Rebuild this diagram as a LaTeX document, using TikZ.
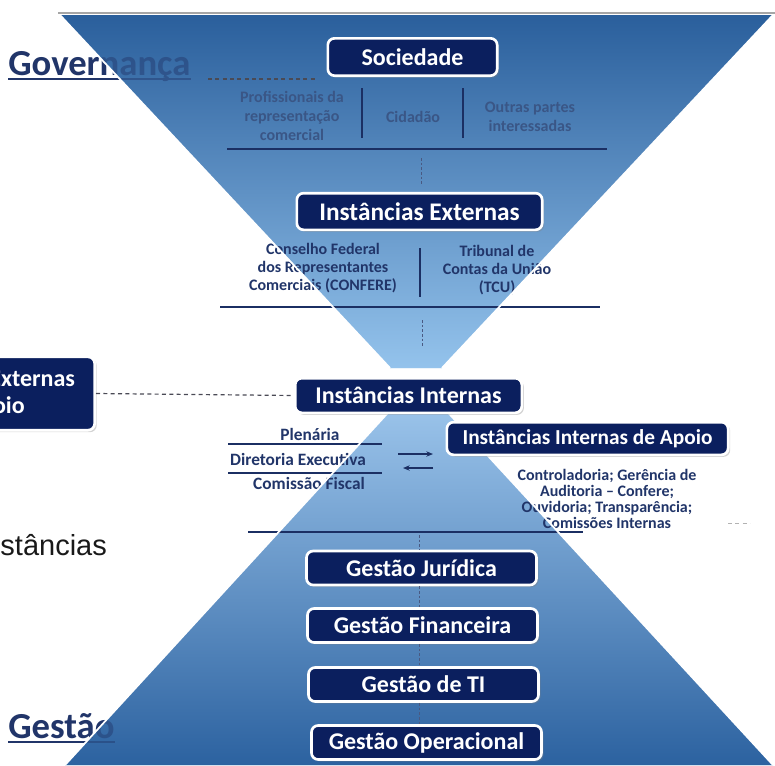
\documentclass[tikz,border=0pt]{standalone}
\usepackage{fontspec}
\setmainfont{Carlito}
\newfontfamily\arialfont{Liberation Sans}
\usepackage{tikz}
\usetikzlibrary{positioning,shadows,arrows.meta}
\definecolor{navybox}{HTML}{0B1F5E}
\definecolor{navytext}{HTML}{213569}
\definecolor{softtext}{HTML}{3A5686}
\definecolor{rulec}{HTML}{1B2F63}
\definecolor{topblue}{HTML}{2A5F9C}
\definecolor{paleblue}{HTML}{94C3EC}
\definecolor{apexblue}{HTML}{A3CBF0}
\definecolor{baseblue}{HTML}{2C62A0}
\definecolor{dashc}{HTML}{4A4A55}

\begin{document}
\begin{tikzpicture}[x=0.75pt, y=-0.75pt,
        box/.style={
            rectangle,
            rounded corners=5pt,
            fill=navybox,
            draw=white,
            line width=2pt,
            text=white,
            inner sep=2pt,
            minimum height=26pt,
            font=\bfseries\fontsize{18}{20}\selectfont,
            drop shadow={opacity=0.35, shadow xshift=1.5pt, shadow yshift=-1.5pt}
        },
        item/.style={
            text=navytext,
            font=\bfseries\fontsize{12}{13.8}\selectfont,
            align=center,
            inner sep=0pt
        },
        soft/.style={
            item,
            text=softtext,
            font=\bfseries\fontsize{12}{14.5}\selectfont
        },
        title/.style={
            text=navytext,
            font=\bfseries\fontsize{27.5}{30}\selectfont,
            inner sep=0pt,
            anchor=base west
        },
        rule/.style={draw=rulec, line width=1.5pt},
        dotline/.style={draw=rulec!80, line width=0.6pt, dash pattern=on 2pt off 1.5pt},
        link/.style={draw=dashc, line width=0.9pt, dash pattern=on 3pt off 2.5pt},
        arrow/.style={-{Stealth[length=5pt, width=4pt]}, draw=rulec, line width=0.9pt},
        edge/.style={draw=white, line width=1.3pt},
        upshade/.style={top color=topblue, bottom color=paleblue},
        lowshade/.style={top color=apexblue, bottom color=baseblue}
    ]
        \useasboundingbox (0,0) rectangle (775,765);
        \clip (0,0) rectangle (775,765);

        % Funnel and pyramid
        \draw[black!35, line width=1.5pt] (58,13) -- (775,13);
        \shade[upshade] (60,15) -- (773,15) -- (442,368) -- (390,368) -- cycle;
        \shade[lowshade] (418,380) -- (773,765) -- (65,765) -- cycle;

        % Side titles
        \node[title] (gov) at (8,75) {Governança};
        \draw[navytext, line width=1pt] ([yshift=-3pt]gov.base west) -- ([yshift=-3pt]gov.base east);
        \node[title] (gest) at (8,738) {Gestão};
        \draw[navytext, line width=1pt] ([yshift=-3pt]gest.base west) -- ([yshift=-3pt]gest.base east);
        \node[anchor=base west, inner sep=0pt, text=black!90,
            font=\arialfont\fontsize{21.75}{24}\selectfont] (inst) at (-24,555) {Instâncias};

        % shapes again, half see-through over the titles
        \shade[upshade, opacity=0.55] (60,15) -- (773,15) -- (442,368) -- (390,368) -- cycle;
        \shade[lowshade, opacity=0.55] (418,380) -- (773,765) -- (65,765) -- cycle;

        % Sociedade row
        \node[soft] (prof) at (292,116) {Profissionais da\\representação\\comercial};
        \node[soft] (cidad) at (413,117) {Cidadão};
        \node[soft] (outras) at (530,117) {Outras partes\\interessadas};
        \draw[rule, line width=1.2pt] (362,88) -- (362,138);
        \draw[rule, line width=1.2pt] (463,88) -- (463,138);
        \draw[rule] (227,149) -- (607,149);

        % Externas row
        \node[item, font=\bfseries\fontsize{12}{13.8}\selectfont] (conselho) at (323,268) {Conselho Federal\\dos Representantes\\Comerciais (CONFERE)};
        \node[item] (tcu) at (497,270) {Tribunal de\\Contas da União\\(TCU)};
        \draw[rule, line width=1.2pt] (420,248) -- (420,297);
        \draw[rule] (220,307) -- (600,307);

        % Internas rows
        \node[item, font=\bfseries\fontsize{13}{15}\selectfont] (plen) at (310,434) {Plenária};
        \node[item, font=\bfseries\fontsize{13}{15}\selectfont] (dir) at (298,459) {Diretoria Executiva};
        \node[item, font=\bfseries\fontsize{13}{15}\selectfont] (comfis) at (309,483) {Comissão Fiscal};
        \draw[rule, line width=1.2pt] (228,444) -- (382,444);
        \draw[rule, line width=1.2pt] (228,473) -- (382,473);
        \node[item, font=\bfseries\fontsize{12}{12.1}\selectfont] (apoiotxt) at (607,499) {Controladoria; Gerência de\\Auditoria – Confere;\\Ouvidoria; Transparência;\\Comissões Internas};
        \draw[rule] (248,532) -- (583,532);

        % white rims
        \draw[edge] (60,15) -- (390,368);
        \draw[edge] (773,15) -- (442,368);
        \draw[edge] (65,765) -- (418,380) -- (773,765);

        % Boxes
        \node[box, minimum width=127pt, minimum height=28pt] (soc) at (412.5,57) {Sociedade};
        \node[box, minimum width=184pt, minimum height=27.5pt,
            font=\bfseries\fontsize{19}{21}\selectfont] (extern) at (419.5,211.5) {Instâncias Externas};
        \node[box, minimum width=170pt] (intern) at (408.5,395.5) {Instâncias Internas};
        \node[box, minimum width=211pt, minimum height=24.5pt,
            font=\bfseries\fontsize{16}{18}\selectfont] (apoio) at (587.5,438.5) {Instâncias Internas de Apoio};
        \node[box, align=center, minimum width=172pt, minimum height=55pt] (extapoio) at (-20,393.5) {Instâncias Externas\\de Apoio};
        \node[box, minimum width=172.5pt, minimum height=25.5pt] (gjur) at (421.5,568) {Gestão Jurídica};
        \node[box, minimum width=172.5pt, minimum height=25.5pt] (gfin) at (422.5,625.5) {Gestão Financeira};
        \node[box, minimum width=172.5pt, minimum height=25.5pt] (gti) at (423.5,684.5) {Gestão de TI};
        \node[box, minimum width=172.5pt, minimum height=25.5pt] (gop) at (426.5,742.5) {Gestão Operacional};

        % Connectors
        \coordinate (govA) at (208,79);
        \coordinate (govB) at (317,79);
        \draw[link] (govA) -- (govB);
        \draw[link] (extapoio.east) -- (intern.west);
        \coordinate (socrule) at (421,158);
        \draw[dotline, shorten >=6pt] (socrule) -- (socrule |- extern.north);
        \coordinate (extrule) at (422,320);
        \draw[dotline, shorten >=22pt] (extrule) -- (extrule |- intern.north);
        \coordinate (intrule) at (419,535);
        \draw[dotline] (intrule) -- (intrule |- gjur.north);
        \draw[dotline] (intrule |- gjur.south) -- (intrule |- gfin.north);
        \draw[dotline] (intrule |- gfin.south) -- (intrule |- gti.north);
        \draw[dotline] (intrule |- gti.south) -- (intrule |- gop.north);
        \coordinate (arA) at (398,454);
        \coordinate (arB) at (433,454);
        \coordinate (arC) at (433,468);
        \coordinate (arD) at (403,468);
        \draw[arrow] (arA) -- (arB);
        \draw[arrow] (arC) -- (arD);
        \coordinate (stubA) at (728,523);
        \coordinate (stubB) at (750,523);
        \draw[link, draw=black!30, line width=0.6pt] (stubA) -- (stubB);
    \end{tikzpicture}
\end{document}
